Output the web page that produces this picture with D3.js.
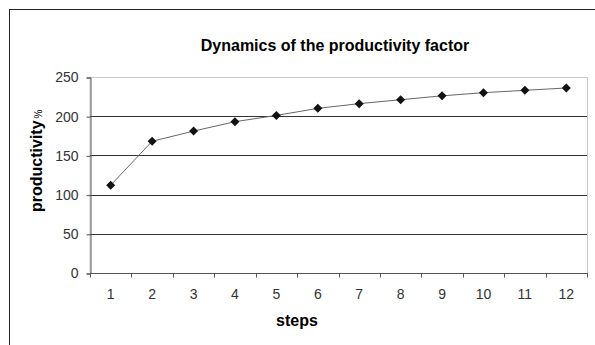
<!DOCTYPE html>
<html>
<head>
<meta charset="utf-8">
<script src="https://cdn.jsdelivr.net/npm/d3@7/dist/d3.min.js"></script>
<style>
  html, body { margin: 0; padding: 0; background: #fff; }
  svg { display: block; }
  text { font-family: Arial, "Liberation Sans", sans-serif; }
</style>
</head>
<body>
<svg id="chart" width="595" height="345"></svg>
<script>
// Productivity (%) reached at each step
const steps = [1, 2, 3, 4, 5, 6, 7, 8, 9, 10, 11, 12];
const productivity = [112, 168, 181, 193, 201, 210, 216, 221, 226, 230, 233, 236];
const yTicks = [0, 50, 100, 150, 200, 250];
const titleText = "Dynamics of the productivity factor";
const xLabel = "steps";
const yLabel = "productivity";
const yUnit = "%";

const svg = d3.select("#chart");
const W = 595, H = 345;
const plot = { left: 90, top: 77, right: 587, bottom: 273 };

// Outer chart frame (runs off the right and bottom edges)
svg.append("rect")
  .attr("x", 9.5).attr("y", 9.5)
  .attr("width", W + 20).attr("height", H + 20)
  .attr("fill", "#fff").attr("stroke", "#222").attr("stroke-width", 1);

const x = d3.scaleBand().domain(steps).range([plot.left, plot.right]);
const y = d3.scaleLinear().domain([0, 250]).range([plot.bottom, plot.top]);

// Plot-area border (light grey on top and right)
svg.append("rect")
  .attr("x", plot.left).attr("y", plot.top + 0.5)
  .attr("width", plot.right - plot.left + 0.5)
  .attr("height", plot.bottom - plot.top)
  .attr("fill", "none").attr("stroke", "#c8c8c8").attr("stroke-width", 1);

// Horizontal gridlines
svg.append("g")
  .selectAll("line")
  .data(yTicks.filter(d => d > 0 && d < 250))
  .join("line")
  .attr("x1", plot.left).attr("x2", plot.right)
  .attr("y1", d => Math.round(y(d)) + 0.5).attr("y2", d => Math.round(y(d)) + 0.5)
  .attr("stroke", "#333").attr("stroke-width", 1);

// Y axis
const yAxis = svg.append("g")
  .attr("transform", `translate(${plot.left + 0.5},0.5)`)
  .call(d3.axisLeft(y).tickValues(yTicks).tickSize(4).tickPadding(8));
yAxis.select(".domain").attr("stroke", "#555");
yAxis.selectAll(".tick line").attr("stroke", "#555");
yAxis.selectAll("text")
  .attr("font-size", 14).attr("fill", "#333")
  .attr("font-family", "Arial, 'Liberation Sans', sans-serif");

// X axis: ticks at category boundaries, labels centred in each band
const xg = svg.append("g").attr("transform", `translate(0,${plot.bottom + 0.5})`);
xg.append("line")
  .attr("x1", plot.left).attr("x2", plot.right + 1)
  .attr("stroke", "#555");
const bounds = steps.map(s => x(s)).concat([plot.right]);
xg.selectAll("line.tk")
  .data(bounds)
  .join("line").attr("class", "tk")
  .attr("x1", d => Math.round(d) + 0.5).attr("x2", d => Math.round(d) + 0.5)
  .attr("y1", 0).attr("y2", 4)
  .attr("stroke", "#555");
xg.selectAll("text")
  .data(steps)
  .join("text")
  .attr("x", d => x(d) + x.bandwidth() / 2)
  .attr("y", 25)
  .attr("text-anchor", "middle")
  .attr("font-size", 14).attr("fill", "#333")
  .text(d => d);

// Series line and diamond markers
const line = d3.line()
  .x((d, i) => x(steps[i]) + x.bandwidth() / 2)
  .y(d => y(d));
svg.append("path")
  .datum(productivity)
  .attr("d", line)
  .attr("fill", "none").attr("stroke", "#666").attr("stroke-width", 1);

svg.append("g")
  .selectAll("path")
  .data(productivity)
  .join("path")
  .attr("transform", (d, i) => `translate(${x(steps[i]) + x.bandwidth() / 2},${y(d)})`)
  .attr("d", "M0,-4.5L4.5,0L0,4.5L-4.5,0Z")
  .attr("fill", "#111");

// Title
svg.append("text")
  .attr("x", 335).attr("y", 51)
  .attr("text-anchor", "middle")
  .attr("font-size", 16).attr("font-weight", "bold").attr("fill", "#000")
  .text(titleText);

// Axis titles
svg.append("text")
  .attr("x", 297).attr("y", 326)
  .attr("text-anchor", "middle")
  .attr("font-size", 16).attr("font-weight", "bold").attr("fill", "#000")
  .text(xLabel);

const yt = svg.append("text")
  .attr("transform", "translate(42,212) rotate(-90)")
  .attr("text-anchor", "start")
  .attr("fill", "#000");
yt.append("tspan").attr("font-size", 16).attr("font-weight", "bold").text(yLabel);
yt.append("tspan").attr("font-size", 10).attr("dx", 2).text(yUnit);
</script>
</body>
</html>
